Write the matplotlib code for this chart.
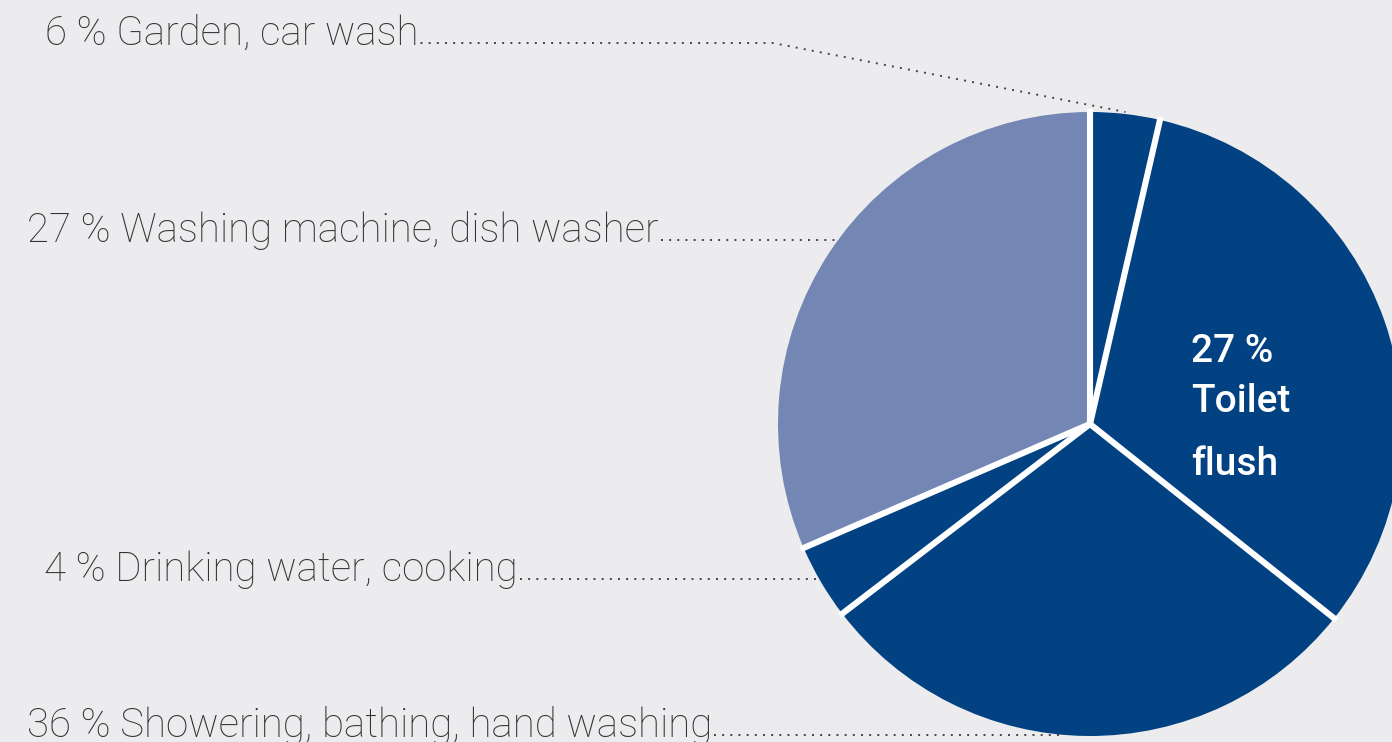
import numpy as np
import matplotlib
matplotlib.use("Agg")
import matplotlib.pyplot as plt

# slice shares as drawn (clockwise from 12 o'clock)
slice_names = ["Garden, car wash", "Toilet flush", "Showering, bathing, hand washing",
               "Drinking water, cooking", "Washing machine, dish washer"]
slice_values = [3.6, 32.1, 28.9, 3.9, 31.5]
slice_colors = ["#024282", "#024282", "#024282", "#024282", "#7386b4"]

# printed labels
label_texts = ["6 % Garden, car wash",
               "27 % Washing machine, dish washer",
               "4 % Drinking water, cooking",
               "36 % Showering, bathing, hand washing"]
label_slice = [0, 4, 3, 2]
inner_label = ["27 %", "Toilet", "flush"]

BG = "#ececee"
W, H = 1392, 742
cx, cy, r = 1090, 424, 312

fig = plt.figure(figsize=(W / 100, H / 100), dpi=100, facecolor=BG)

# pie axes
pax = fig.add_axes([(cx - r) / W, (H - cy - r) / H, 2 * r / W, 2 * r / H])
wedges, _ = pax.pie(slice_values, colors=slice_colors, startangle=90,
                    counterclock=False, radius=1.0,
                    wedgeprops=dict(linewidth=0))
pax.set_xlim(-1, 1)
pax.set_ylim(-1, 1)
pax.axis("off")
for w in wedges:
    w.set_clip_on(False)

# white separators between slices
bounds = np.concatenate([[0], np.cumsum(slice_values)[:-1]])
for b in bounds:
    th = np.deg2rad(90 - b * 3.6)
    pax.plot([0, 1.01 * np.cos(th)], [0, 1.01 * np.sin(th)], color="white",
             lw=4.4, solid_capstyle="butt", clip_on=False, zorder=3)

# overlay in pixel coordinates (y down), on top of the pie
ax = fig.add_axes([0, 0, 1, 1])
ax.set_zorder(5)
ax.patch.set_alpha(0)
ax.set_xlim(0, W)
ax.set_ylim(H, 0)
ax.axis("off")

# outer labels with dotted leaders
label_pos = [(45, 45), (27, 242), (44, 581), (27, 737)]
fig.canvas.draw()
renderer = fig.canvas.get_renderer()
for txt, (x, y), si in zip(label_texts, label_pos, label_slice):
    t = ax.text(x, y, txt, fontsize=29, family="Roboto", fontweight="light",
                color="#333333", va="baseline", ha="left")
    bb = t.get_window_extent(renderer)
    x0 = bb.x1 + 2
    ly = y - 2
    if si == 0:
        mid = np.deg2rad(90 - (bounds[0] + slice_values[0] / 2) * 3.6)
        ex = cx + (r + 2) * np.cos(mid)
        ey = cy - (r + 2) * np.sin(mid)
        xs, ys = [x0, 773, ex], [ly, ly, ey]
    else:
        dx = np.sqrt(max(r ** 2 - (ly - cy) ** 2, 0))
        xs, ys = [x0, cx - dx], [ly, ly]
    ax.plot(xs, ys, color="#444444", lw=1.4, linestyle=(0, (1, 3.2)),
            solid_capstyle="butt")

# label inside the toilet slice
for txt, y in zip(inner_label, [362, 412, 475]):
    ax.text(1191, y, txt, fontsize=28, family="Roboto", fontweight="medium",
            color="white", va="baseline", ha="left")

fig.savefig("out.png", dpi=100, facecolor=BG)
